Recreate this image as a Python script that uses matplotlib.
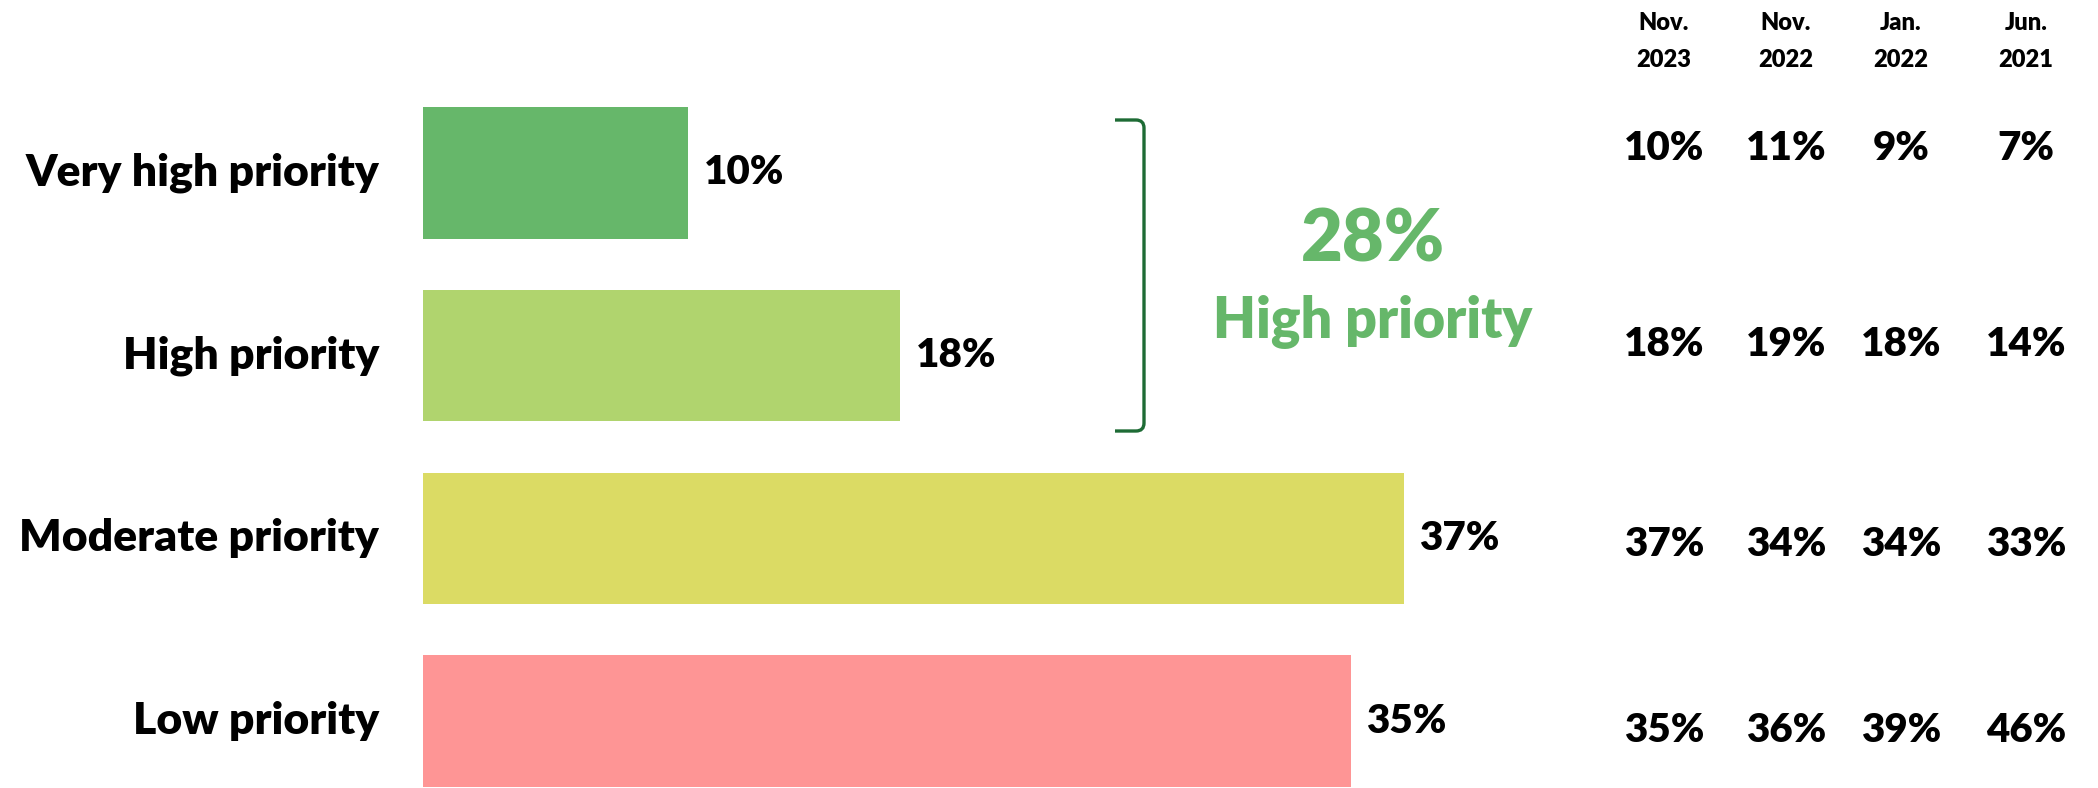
import matplotlib
matplotlib.use("Agg")
import matplotlib.pyplot as plt
from matplotlib.path import Path
from matplotlib.patches import PathPatch

plt.rcParams['font.family'] = ['Lato', 'DejaVu Sans']

categories = ["Very high priority", "High priority", "Moderate priority", "Low priority"]
values = [10, 18, 37, 35]
colors = ["#66b76a", "#b0d46e", "#dbdb64", "#fe9595"]

waves = [("Nov.", "2023"), ("Nov.", "2022"), ("Jan.", "2022"), ("Jun.", "2021")]
history = [
    [10, 18, 37, 35],
    [11, 19, 34, 36],
    [9, 18, 34, 39],
    [7, 14, 33, 46],
]

W, H = 2098, 788
fig = plt.figure(figsize=(W / 100, H / 100), dpi=100)

def fx(px):
    return px / W

def fy(py):
    return 1 - py / H

# bar area, 0-40 % across
ax_left, ax_top, ax_bottom = 423, 107, 787
px_per_pct = 26.5
ax = fig.add_axes([fx(ax_left), fy(ax_bottom), fx(40 * px_per_pct), (ax_bottom - ax_top) / H])
ax.barh(range(len(values)), values, height=0.72, color=colors)
ax.set_xlim(0, 40)
ax.set_ylim(3.36, -0.36)
ax.axis("off")

for i, (cat, v) in enumerate(zip(categories, values)):
    ax.text(v + 0.6, i, f"{v}%", va="center", ha="left", fontsize=29, fontweight="heavy")
    ax.text(-1.65, i, cat, va="center", ha="right", fontsize=32, fontweight="heavy")

# bracket grouping the two top categories
bx, bx_in, btop, bbot, r = 1144, 1115, 120, 431, 8
verts = [(bx_in, btop), (bx - r, btop), (bx, btop), (bx, btop + r),
         (bx, bbot - r), (bx, bbot), (bx - r, bbot), (bx_in, bbot)]
verts = [(fx(x), fy(y)) for x, y in verts]
codes = [Path.MOVETO, Path.LINETO, Path.CURVE3, Path.CURVE3,
         Path.LINETO, Path.CURVE3, Path.CURVE3, Path.LINETO]
fig.patches.append(PathPatch(Path(verts, codes), transform=fig.transFigure,
                             fill=False, edgecolor="#1e6b35", linewidth=2.4,
                             capstyle="butt"))

top_two = values[0] + values[1]
fig.text(fx(1373), fy(240), f"{top_two}%", ha="center", va="center",
         fontsize=52, fontweight="heavy", color="#66b76a")
fig.text(fx(1373), fy(322), "High priority", ha="center", va="center",
         fontsize=40, fontweight="heavy", color="#66b76a")

# trend table on the right
col_x = [1664, 1786, 1901, 2026]
row_y = [149, 345, 544, 731]
for cx, (month, year), col in zip(col_x, waves, history):
    fig.text(fx(cx), fy(23), month, ha="center", va="center", fontsize=17, fontweight="heavy")
    fig.text(fx(cx), fy(60), year, ha="center", va="center", fontsize=17, fontweight="heavy")
    for ry, v in zip(row_y, col):
        fig.text(fx(cx), fy(ry), f"{v}%", ha="center", va="center", fontsize=29, fontweight="heavy")

fig.savefig("out.png", dpi=100, facecolor="white")
